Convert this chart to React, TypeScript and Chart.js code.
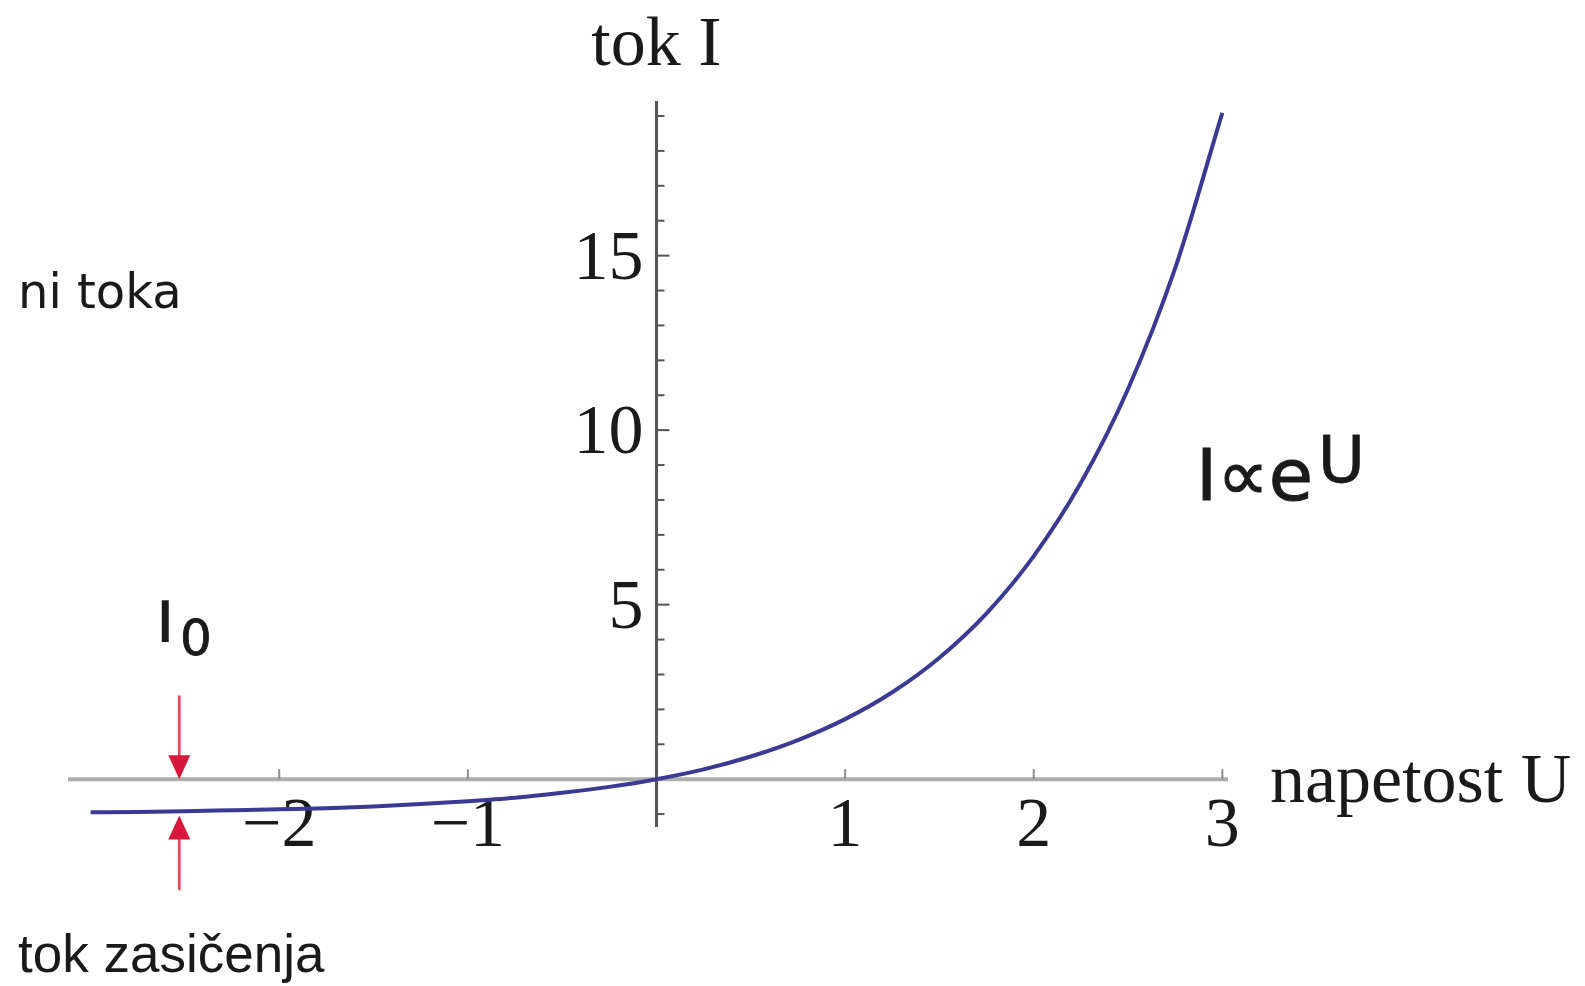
import React, { useEffect, useRef } from "react";
import { Chart, registerables } from "chart.js";

Chart.register(...registerables);

// ---- data ----
const voltageValues = [
  -3, -2.75, -2.5, -2.25, -2, -1.75, -1.5, -1.25, -1, -0.75, -0.5, -0.25, 0,
  0.25, 0.5, 0.75, 1, 1.25, 1.5, 1.75, 2, 2.25, 2.5, 2.75, 3,
];
const currentValues = [
  -0.95, -0.94, -0.92, -0.89, -0.86, -0.83, -0.78, -0.71, -0.63, -0.53, -0.39,
  -0.22, 0, 0.28, 0.65, 1.12, 1.72, 2.49, 3.48, 4.75, 6.39, 8.49, 11.18, 14.64,
  19.09,
];
const xTickValues = [-2, -1, 1, 2, 3];
const xTickLabels = ["\u22122", "\u22121", "1", "2", "3"];
const yMajorTickValues = [5, 10, 15];
const yMajorTickLabels = ["5", "10", "15"];
const yMinorTickValues = [-1, 1, 2, 3, 4, 6, 7, 8, 9, 11, 12, 13, 14, 16, 17, 18, 19];

const xMin = -3.12;
const xMax = 3.03;
const yMin = -1.37;
const yMax = 19.43;

// annotation anchor (saturation current arrows)
const arrowX = -2.53;
const arrowTopFrom = 2.4;
const arrowTopTo = 0;
const arrowBottomFrom = -3.18;
const arrowBottomTo = -1.04;

const SERIF = '"Liberation Serif", "Times New Roman", serif';
const SANS = '"DejaVu Sans", sans-serif';

function drawArrow(ctx: CanvasRenderingContext2D, x: number, yFrom: number, yTo: number) {
  const dir = yTo > yFrom ? 1 : -1;
  const headLen = 24;
  const headHalf = 11;
  ctx.save();
  ctx.strokeStyle = "#e6485f";
  ctx.lineWidth = 2.6;
  ctx.beginPath();
  ctx.moveTo(x, yFrom);
  ctx.lineTo(x, yTo - dir * (headLen - 2));
  ctx.stroke();
  ctx.fillStyle = "#d9173a";
  ctx.beginPath();
  ctx.moveTo(x, yTo);
  ctx.lineTo(x - headHalf, yTo - dir * headLen);
  ctx.lineTo(x + headHalf, yTo - dir * headLen);
  ctx.closePath();
  ctx.fill();
  ctx.restore();
}

function boldText(ctx: CanvasRenderingContext2D, text: string, x: number, y: number, w: number) {
  ctx.fillText(text, x, y);
  ctx.lineWidth = w;
  ctx.strokeStyle = ctx.fillStyle as string;
  ctx.strokeText(text, x, y);
}

const axesPlugin = {
  id: "crossAxes",
  beforeDatasetsDraw(chart: any) {
    const { ctx, scales } = chart;
    const xs = scales.x;
    const ys = scales.y;
    const x0 = xs.getPixelForValue(0);
    const y0 = ys.getPixelForValue(0);
    ctx.save();
    // horizontal axis
    ctx.strokeStyle = "#adadad";
    ctx.lineWidth = 4;
    ctx.beginPath();
    ctx.moveTo(xs.getPixelForValue(xMin), y0);
    ctx.lineTo(xs.getPixelForValue(xMax), y0);
    ctx.stroke();
    ctx.strokeStyle = "#8c8c8c";
    ctx.lineWidth = 2;
    xTickValues.forEach((v) => {
      const px = xs.getPixelForValue(v);
      ctx.beginPath();
      ctx.moveTo(px, y0);
      ctx.lineTo(px, y0 - 10);
      ctx.stroke();
    });
    // vertical axis
    ctx.strokeStyle = "#555555";
    ctx.lineWidth = 3;
    ctx.beginPath();
    ctx.moveTo(x0, ys.getPixelForValue(yMin));
    ctx.lineTo(x0, ys.getPixelForValue(yMax));
    ctx.stroke();
    ctx.lineWidth = 2;
    yMinorTickValues.forEach((v) => {
      const py = ys.getPixelForValue(v);
      ctx.beginPath();
      ctx.moveTo(x0, py);
      ctx.lineTo(x0 + 8, py);
      ctx.stroke();
    });
    yMajorTickValues.forEach((v) => {
      const py = ys.getPixelForValue(v);
      ctx.beginPath();
      ctx.moveTo(x0, py);
      ctx.lineTo(x0 + 13, py);
      ctx.stroke();
    });
    // tick labels
    ctx.fillStyle = "#1a1a1a";
    ctx.font = `70px ${SERIF}`;
    ctx.textBaseline = "alphabetic";
    ctx.textAlign = "center";
    xTickValues.forEach((v, i) => {
      ctx.fillText(xTickLabels[i], xs.getPixelForValue(v), y0 + 67);
    });
    ctx.textAlign = "right";
    yMajorTickValues.forEach((v, i) => {
      ctx.fillText(yMajorTickLabels[i], x0 - 13, ys.getPixelForValue(v) + 23);
    });
    // axis titles
    ctx.font = `70px ${SERIF}`;
    ctx.textAlign = "center";
    ctx.fillText("tok I", x0, 65);
    ctx.textAlign = "left";
    ctx.fillText("napetost U", xs.getPixelForValue(xMax) + 42, y0 + 23);
    ctx.restore();
  },
  afterDatasetsDraw(chart: any) {
    const { ctx, scales } = chart;
    const xs = scales.x;
    const ys = scales.y;
    ctx.save();
    const ax = xs.getPixelForValue(arrowX);
    drawArrow(ctx, ax, ys.getPixelForValue(arrowTopFrom), ys.getPixelForValue(arrowTopTo));
    drawArrow(ctx, ax, ys.getPixelForValue(arrowBottomFrom), ys.getPixelForValue(arrowBottomTo));

    ctx.fillStyle = "#1a1a1a";
    ctx.textAlign = "left";
    ctx.textBaseline = "alphabetic";
    ctx.font = `48px ${SANS}`;
    ctx.fillText("ni toka", 18, 308);
    ctx.font = '53px "Liberation Sans", Arial, sans-serif';
    ctx.fillText("tok zasi\u010Denja", 18, 972);

    ctx.font = `56px ${SANS}`;
    boldText(ctx, "I", 157, 641, 1.5);
    ctx.font = `50px ${SANS}`;
    boldText(ctx, "0", 180, 655, 0.8);

    ctx.font = `72px ${SANS}`;
    const base = "I\u221De";
    boldText(ctx, base, 1196, 500, 1);
    const w = ctx.measureText(base).width;
    ctx.font = `64px ${SANS}`;
    boldText(ctx, "U", 1196 + w + 5, 482, 0.8);
    ctx.restore();
  },
};

export default function App() {
  const canvasRef = useRef<HTMLCanvasElement | null>(null);
  useEffect(() => {
    const canvas = canvasRef.current;
    if (!canvas) return;
    const chart = new Chart(canvas, {
      type: "line",
      data: {
        datasets: [
          {
            data: voltageValues.map((v, i) => ({ x: v, y: currentValues[i] })),
            borderColor: "#3a3a94",
            borderWidth: 4,
            pointRadius: 0,
            cubicInterpolationMode: "monotone",
            fill: false,
          },
        ],
      },
      options: {
        responsive: false,
        animation: false,
        events: [],
        layout: { padding: { left: 68, right: 357, top: 101, bottom: 159 } },
        scales: {
          x: { type: "linear", min: xMin, max: xMax, display: false },
          y: { type: "linear", min: yMin, max: yMax, display: false },
        },
        plugins: { legend: { display: false }, tooltip: { enabled: false } },
      },
      plugins: [axesPlugin],
    });
    return () => chart.destroy();
  }, []);
  return (
    <div style={{ position: "absolute", left: 0, top: 0, width: 1585, height: 986, background: "#fff" }}>
      <canvas ref={canvasRef} width={1585} height={986} />
    </div>
  );
}
